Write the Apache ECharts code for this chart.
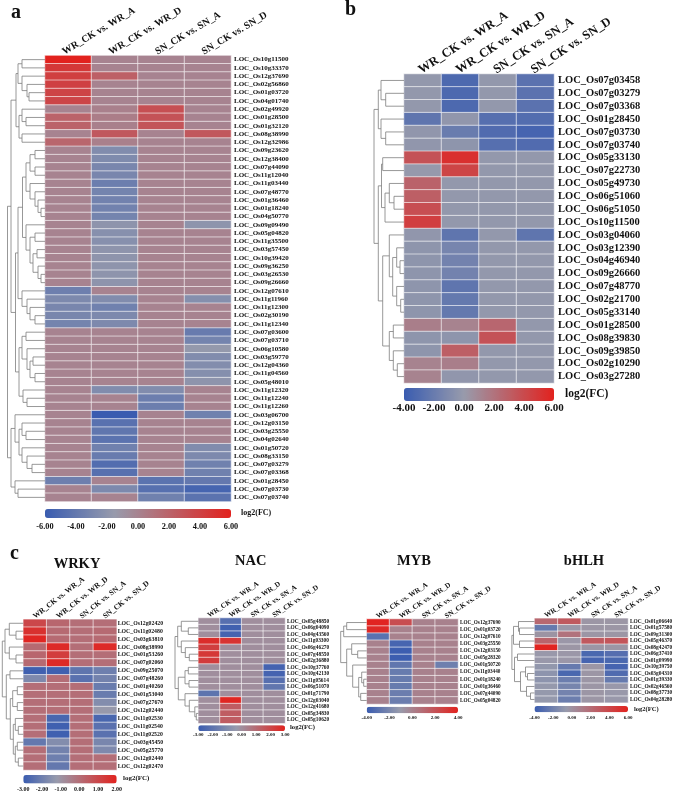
<!DOCTYPE html>
<html><head><meta charset="utf-8">
<style>html,body{margin:0;padding:0;background:#fff}#c{width:676px;height:795px}</style>
<script src="https://cdn.jsdelivr.net/npm/echarts@6/dist/echarts.min.js"></script>
</head><body><div id="c"></div>
<script>
const comparisons = ['WR_CK vs. WR_A','WR_CK vs. WR_D','SN_CK vs. SN_A','SN_CK vs. SN_D'];

// ---- panel a
const aRows = ['10g11500','10g33370','12g37690','02g56860','01g03720','04g01740','02g49920','01g28500','01g32120','08g38990','12g32986','09g23620','12g38400','07g44090','11g12040','11g03440','07g48770','01g36460','01g18240','04g50770','09g09490','05g04820','11g35500','03g57450','10g39420','09g36250','03g26530','09g26660','12g07610','11g11960','11g12300','02g30190','11g12340','07g03600','07g03710','06g10580','03g59770','12g04360','11g04560','05g48010','11g12320','11g12240','11g12260','03g06700','12g03150','03g25550','04g02640','01g50720','08g33150','07g03279','07g03368','01g28450','07g03730','07g03740'];
const aWrA = [6,4.6,4.2,4.1,3.9,3.8,0,2,2,0,1.8,0,0,0,0,0,0,0,0,0,0,0,0,0,0,0,0,0,-3.5,-2.8,-3,-3,-3.2,0,0,0,0,0,0,0,0,0,0,0,0,0,0,0,0,0,0,-3.5,0,0];
const aWrD = [0,0,2.2,0,0,0,0.2,0.4,0.2,2.6,0.2,-2.6,-2.7,-3,-3,-3.6,-3.2,-3.3,-3.3,-3.2,-2,-2.3,-2.3,-2,-2,-2,-2,-2,0,-2.6,-3.4,-2.8,-2.8,0,0,0,0,0,0,0,-2.6,0,0,-6,-4.5,-4.2,-4.4,-3.4,-3.8,-4.8,-4.6,0,-2.8,0];
const aSnA = [0,0,0,0,0,0,3.2,3,2.9,0,0,0,0,0,0,0,0,0,0,0,0,0,0,0,0,0,0,0,0,0,0,0,0,0,0,0,0,0,0,0,-2.6,-3.6,-3.6,0,0,0,0,0,0,0,0,-4.4,-4.6,-3.4];
const aSnD = [0,0,0,0,0,0,0,0,0,2.7,0,0,0,0,0,0,0,0,0,0,-2,0,0,0,0,0,0,0,0,-2.4,0,0,0,-3.8,-3.2,-1.7,-2.6,-2.5,-2.4,-2,0,0,0,-3.4,0,0,0,-2.6,-2.8,-3.4,-3.4,-4,-5.4,-4.4];
const aTree = [37.5,
  [34,
    [29,
      [27,[23,1,1],[23,1,[18,1,[16,1,1]]]],
      [26,[23,1,[19,1,1]],[23,1,1]]],
    [29.5,
      [27,
        [22.5,
          [19,[15,[10,1,1],[10,1,1]],[15,1,[10,1,[7,1,[4,1,1]]]]],
          [19,1,[15,[10,1,1],[12,[8,1,1],[7,1,[4,1,1]]]]]],
        [23,1,[18,1,[15,1,[10,1,1]]]]],
      [26,
        [23,[19,1,1],[18,1,[15,[12,1,1],[10,1,1]]]],
        [22,1,[18,1,1]]]]],
  [34,
    [30,1,[26,[23,1,[19,1,1]],[23,1,[18,1,[13,1,1]]]]],
    [30,1,[27,1,1]]]];

// ---- panel b
const bRows = ['07g03458','07g03279','07g03368','01g28450','07g03730','07g03740','05g33130','07g22730','05g49730','06g51060','06g51050','10g11500','03g04060','03g12390','04g46940','09g26660','07g48770','02g21700','05g33140','01g28500','08g39830','09g39850','02g10290','03g27280'];
const bWrA = [-0.2,-0.2,-0.2,-2.4,-0.3,-0.3,3.6,-0.1,2.8,3,3.8,4.6,-0.3,-0.4,-0.4,-0.4,-0.4,-0.4,-0.4,1.4,-0.4,-0.4,1.2,1.2];
const bWrD = [-3.2,-3.2,-3.2,-0.3,-2,-0.4,5.3,4.3,-0.2,-0.2,-0.2,-0.2,-2.4,-1.4,-1.6,-1.6,-2.4,-2.2,-2.2,1.2,-0.4,3,1.4,-0.3];
const bSnA = [-0.2,-0.2,-0.2,-2.8,-3,-2.8,-0.2,-0.2,-0.2,-0.2,-0.2,-0.2,-0.2,-0.2,-0.2,-0.2,-0.2,-0.2,-0.2,2.6,3.6,-0.2,-0.2,-0.2];
const bSnD = [-2.6,-2.6,-2.6,-2.9,-3.5,-3,-0.2,-0.2,-0.2,-0.2,-0.2,-0.2,-2.4,-0.2,-0.2,-0.2,-0.2,-0.2,-0.2,-0.2,-0.2,-0.2,-0.2,-0.2];
const bTree = [30,
  [25.7,[23,1,[18.3,1,1]],[23,1,[18.3,1,1]]],
  [25.7,
    [22.5,[21.3,1,1],[19,[14.7,1,[10,1,1]],1]],
    [21.3,
      [14.7,1,[11.3,[7.3,1,[4,1,1]],[7.3,1,[3.3,1,1]]]],
      [14.7,[10.7,1,1],[10.7,1,[6.7,1,1]]]]]];

// ---- WRKY
const wRows = ['12g02420','11g02480','03g63810','08g38990','01g53260','07g02060','09g25070','07g48260','01g40260','01g53040','07g27670','12g02440','11g02530','11g02540','11g02520','03g45450','05g25770','12g02440','12g02470'];
const wWrA = [1,1.6,1.9,0.1,0.2,0.1,-2.9,-1.7,0,0,0,0,0,0,0,-2.2,0,0,0];
const wWrD = [0.2,0.1,0.1,1.8,1.3,1.8,-2.9,0,0,0,0,0,-2.7,-2.9,-2.9,-1.6,-1.9,-2,-2.2];
const wSnA = [0,0,0,0,0,0,-2.3,-2.4,0,0,0,0,0,0,0,0,0,0,0];
const wSnD = [0,0.1,0.1,1.8,0,0,-2,-1.9,-2.1,-2.1,-1.6,-1.2,-2.7,-2.4,-2.4,-1.8,-1.7,0,0];
const wTree = [21,
  [18.3,[14,1,[7.3,1,1]],[14,1,[7.3,1,1]]],
  [17,[13.3,1,1],
    [13,[10.6,[6,1,1],[6,1,1]],
        [10,[8,1,[5,1,1]],[8,[6,1,1],[5,1,1]]]]]];

// ---- NAC
const nRows = ['05g48850','06g04090','04g43560','11g03300','06g46270','07g48550','02g36880','10g37760','10g42130','11g05614','06g51070','01g71790','12g03040','12g41680','05g34830','05g10620'];
const nWrA = [0,0,0,2.7,2.2,2.4,2.3,0,0,0,0,-2,0,0,0,0];
const nWrD = [-2.2,-2.8,-2.7,2.5,0,0,0,0,0,0,0,0,2.9,1.4,1.4,1.4];
const nSnA = [0,0,0,0,0,0,0,0,0,0,0,0,0,0,0,0];
const nSnD = [0,0,0,0,0,0,0,-2.7,-2.7,-2.2,-1.9,0,0,0,0,0];
const nTree = [23.3,
  [20.6,[17,1,[10,1,1]],[17,1,[13,1,[9,1,1]]]],
  [20,[13.3,[10,1,1],[9.3,1,1]],[13.3,1,[9,1,[3.5,1,[2,1,1]]]]]];

// ---- MYB
const mRows = ['12g37690','01g03720','12g07610','03g25550','12g03150','05g28320','01g50720','11g03440','01g18240','01g36460','07g44090','05g04820'];
const mWrA = [3.9,3.7,-3,0,0,0,0,0,0,0,0,0];
const mWrD = [2.2,0,0,-3.6,-3.9,-3.9,-2.8,-2.6,-2.6,-2.6,-2.5,-2.5];
const mSnA = [0,0,0,0,0,0,0,0,0,0,0,0];
const mSnD = [0,0,0,0,0,0,-2.4,0,0,0,0,0];
const mTree = [26,[23,[20,1,1],1],[20,[15,1,[9,1,1]],[14,1,[8,[5,1,[3,1,1]],[6,1,1]]]]];

// ---- bHLH
const hRows = ['01g06640','01g57580','09g31300','05g46370','08g42470','06g37410','01g09990','10g39750','03g04310','01g39330','02g46560','08g37730','04g28280'];
const hWrA = [2.2,-2.4,-0.2,2.4,5.9,-0.5,-0.5,-0.8,-1,-1,-0.7,-0.7,-0.7];
const hWrD = [3,-0.4,1.6,-0.4,-0.3,-0.4,-0.4,-2.4,-3.4,-2.2,-1.8,-1.9,-2.2];
const hSnA = [-0.3,-0.3,-0.3,3,-0.3,-3.4,-3.6,-0.3,-0.3,-0.3,-0.3,-0.3,-0.3];
const hSnD = [-0.3,-0.3,-0.3,3.2,-0.3,-3,-3.4,-3.6,-3.2,-2.4,-0.5,-0.5,-0.5];
const hTree = [22.6,[21,[16,1,[15,1,1]],[15,1,1]],[20,[17,1,1],[14,[9,1,[7,1,1]],[8,1,[4,1,1]]]]];

// ---- layout (pixels) and styling
const SERIF = '"Liberation Serif","Times New Roman",serif';
const panels = [
 {rows:aRows,cols:[aWrA,aWrD,aSnA,aSnD],tree:aTree,min:-6,max:6,step:2,pivot:-1.5,
  x:45,y:55.5,w:186,h:446,rowFont:7,rowMargin:3,colFont:10,colRot:31,colDx:5,colMargin:3,
  barY:509,barH:9,tickFont:8.3,tickMargin:5,log:{x:241,y:514,s:8}},
 {rows:bRows,cols:[bWrA,bWrD,bSnA,bSnD],tree:bTree,min:-4,max:6,step:2,pivot:0,
  x:404,y:74,w:150,h:309,rowFont:10.5,rowMargin:4,colFont:12.5,colRot:33,colDx:3,colMargin:3,
  barY:388,barH:13,tickFont:11,tickMargin:2,log:{x:565,y:395,s:11.5}},
 {rows:wRows,cols:[wWrA,wWrD,wSnA,wSnD],tree:wTree,min:-3,max:2,step:1,pivot:-1.2,
  x:23.3,y:619.3,w:93.4,h:150.7,rowFont:5.8,rowMargin:1,colFont:7.6,colRot:38,colDx:1,colMargin:2,
  barY:775,barH:8.5,tickFont:6,tickMargin:3,log:{x:123,y:779,s:7},title:'WRKY',titleX:77,titleY:565},
 {rows:nRows,cols:[nWrA,nWrD,nSnA,nSnD],tree:nTree,min:-3,max:3,step:1,pivot:-0.35,
  x:198.3,y:618,w:86.7,h:105.3,rowFont:5.4,rowMargin:2,colFont:7.2,colRot:33,colDx:1,colMargin:2,
  barY:725.3,barH:5.7,tickFont:5,tickMargin:1.5,log:{x:290,y:728,s:6.6},title:'NAC',titleX:250.7,titleY:562},
 {rows:mRows,cols:[mWrA,mWrD,mSnA,mSnD],tree:mTree,min:-4,max:4,step:2,pivot:-1.1,
  x:366.7,y:619,w:91.3,h:85,rowFont:5.2,rowMargin:2,colFont:7.2,colRot:33,colDx:1,colMargin:2,
  barY:706.7,barH:6.6,tickFont:5,tickMargin:2,title:'MYB',titleX:414,titleY:562},
 {rows:hRows,cols:[hWrA,hWrD,hSnA,hSnD],tree:hTree,min:-4,max:6,step:2,pivot:-0.6,
  x:534.5,y:618.3,w:93.5,h:84.4,rowFont:5.4,rowMargin:2,colFont:7.2,colRot:33,colDx:1,colMargin:2,
  barY:706,barH:6.3,tickFont:5,tickMargin:2.5,log:{x:634,y:710,s:6.5},title:'bHLH',titleX:584,titleY:562}
];
const panelLetters = [{t:'a',x:11,y:14},{t:'b',x:345,y:11},{t:'c',x:10,y:555}];

const BLUE=[58,92,176], GREY=[152,155,172], RED=[226,34,30];
function ramp(min,max,pivot){
  const p=(pivot-min)/(max-min), out=[], n=48;
  for(let i=0;i<=n;i++){
    const t=i/n; let a,b,u;
    if(t<p){a=BLUE;b=GREY;u=t/p}else{a=GREY;b=RED;u=(t-p)/(1-p)}
    out.push('rgb('+a.map((v,k)=>Math.round(v+(b[k]-v)*u)).join(',')+')');
  }
  return out;
}
function segments(tree){
  let leaf=0; const segs=[];
  (function walk(n){
    if(!Array.isArray(n)){ leaf++; return {h:0,y:leaf-0.5}; }
    const a=walk(n[1]), b=walk(n[2]);
    segs.push([a.h,a.y,n[0],a.y]);
    segs.push([b.h,b.y,n[0],b.y]);
    segs.push([n[0],a.y,n[0],b.y]);
    return {h:n[0],y:(a.y+b.y)/2};
  })(tree);
  return segs;
}
const grid=[],xAxis=[],yAxis=[],series=[],visualMap=[],title=[];
panels.forEach(p=>{
  const labelStyle={fontFamily:SERIF,fontWeight:'bold',color:'#111'};
  const rowNames=p.rows.map(r=>'LOC_Os'+r);
  // heatmap
  let g=grid.length;
  grid.push({left:p.x,top:p.y,width:p.w,height:p.h,containLabel:false,outerBoundsMode:'none'});
  xAxis.push({type:'category',gridIndex:g,position:'top',data:comparisons,
    axisLine:{show:false},axisTick:{show:false},splitLine:{show:false},axisLabel:{show:false}});
  yAxis.push({type:'category',gridIndex:g,position:'right',inverse:true,data:rowNames,
    axisLine:{show:false},axisTick:{show:false},splitLine:{show:false},
    axisLabel:Object.assign({interval:0,fontSize:p.rowFont,margin:p.rowMargin},labelStyle)});
  const data=[];
  p.cols.forEach((col,c)=>col.forEach((v,r)=>data.push([c,r,v])));
  const si=series.length;
  series.push({type:'heatmap',xAxisIndex:g,yAxisIndex:g,data,animation:false,
    itemStyle:{borderColor:'rgba(255,255,255,0.75)',borderWidth:0.8},emphasis:{disabled:true}});
  visualMap.push({type:'continuous',seriesIndex:si,dimension:2,min:p.min,max:p.max,orient:'horizontal',
    left:p.x,top:p.barY,itemWidth:p.barH,itemHeight:p.w,padding:0,calculable:false,realtime:false,
    text:null,showLabel:false,inRange:{color:ramp(p.min,p.max,p.pivot)}});
  // column names, slightly left of the column centres as in the figure
  g=grid.length;
  grid.push({left:p.x-p.colDx,top:p.y,width:p.w,height:p.h,outerBoundsMode:'none'});
  xAxis.push({type:'category',gridIndex:g,position:'top',data:comparisons,
    axisLine:{show:false,onZero:false},axisTick:{show:false},splitLine:{show:false},
    axisLabel:Object.assign({interval:0,rotate:-p.colRot,fontSize:p.colFont,margin:p.colMargin},labelStyle)});
  yAxis.push({type:'category',gridIndex:g,inverse:true,data:rowNames,show:false});
  // colour-bar tick labels
  g=grid.length;
  grid.push({left:p.x,top:p.barY,width:p.w,height:p.barH,outerBoundsMode:'none'});
  xAxis.push({type:'value',gridIndex:g,position:'bottom',min:p.min,max:p.max,interval:p.step,
    axisLine:{show:false},axisTick:{show:false},splitLine:{show:false},
    axisLabel:Object.assign({fontSize:p.tickFont,margin:p.tickMargin,formatter:v=>v.toFixed(2),hideOverlap:false},labelStyle)});
  yAxis.push({type:'value',gridIndex:g,min:0,max:1,show:false});
  // dendrogram
  g=grid.length;
  const H=p.tree[0];
  grid.push({left:p.x-H,top:p.y,width:H,height:p.h,outerBoundsMode:'none'});
  xAxis.push({type:'value',gridIndex:g,min:0,max:H,inverse:true,show:false});
  yAxis.push({type:'value',gridIndex:g,min:0,max:p.rows.length,inverse:true,show:false});
  series.push({type:'custom',xAxisIndex:g,yAxisIndex:g,data:segments(p.tree),animation:false,clip:false,silent:true,
    encode:{x:[0,2],y:[1,3]},
    renderItem:(params,api)=>{
      const a=api.coord([api.value(0),api.value(1)]), b=api.coord([api.value(2),api.value(3)]);
      return {type:'line',shape:{x1:a[0],y1:a[1],x2:b[0],y2:b[1]},style:{stroke:'#7d7d7d',lineWidth:0.8,fill:null}};
    }});
  if(p.log) title.push({text:'log2(FC)',left:p.log.x,top:p.log.y-p.log.s*0.6,padding:0,
    textStyle:{fontFamily:SERIF,fontWeight:'bold',fontSize:p.log.s,color:'#111'}});
  if(p.title) title.push({text:p.title,left:p.titleX,top:p.titleY-8,padding:0,textAlign:'center',
    textStyle:{fontFamily:SERIF,fontWeight:'bold',fontSize:14.5,color:'#111'}});
});
panelLetters.forEach(l=>title.push({text:l.t,left:l.x,top:l.y-11,padding:0,
  textStyle:{fontFamily:SERIF,fontWeight:'bold',fontSize:20,color:'#111'}}));

const chart=echarts.init(document.getElementById('c'),null,{renderer:'canvas'});
chart.setOption({animation:false,backgroundColor:'#fff',tooltip:{show:false},title,grid,xAxis,yAxis,series,visualMap});
</script></body></html>
